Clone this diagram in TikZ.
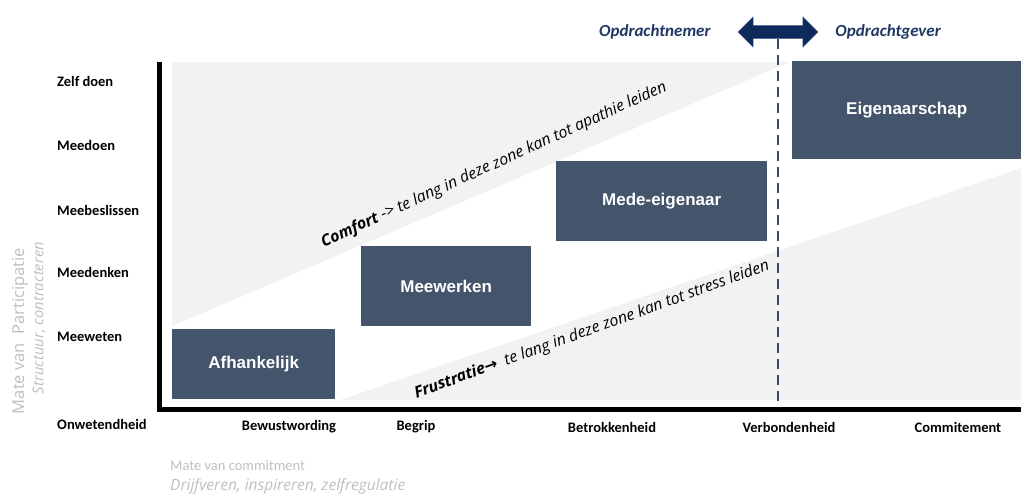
\documentclass[tikz,border=0pt]{standalone}
\usepackage{fontspec}
\setmainfont{Carlito}
\newfontfamily\boxfont{Liberation Sans}
\newfontfamily\zonefont{Open Sans}
\newfontfamily\symfont{DejaVu Sans}
\usetikzlibrary{shapes.arrows,positioning}
\usepackage{xcolor}
\definecolor{slate}{HTML}{44546A}
\definecolor{navy}{HTML}{1F3864}
\definecolor{arrownavy}{HTML}{0E2A5C}
\definecolor{zone}{HTML}{F2F2F2}
\definecolor{faint}{HTML}{BFBFBF}
\definecolor{divider}{HTML}{3B4A63}

\begin{document}
\begin{tikzpicture}[x=1pt,y=-1pt]
      \tikzstyle{stage} = [rectangle, fill=slate, text=white, inner sep=0pt, anchor=north west, font=\boxfont\bfseries\fontsize{17}{20}\selectfont]
      \tikzstyle{level} = [anchor=west, inner sep=0pt, font=\bfseries\fontsize{14.5}{17}\selectfont]
      \tikzstyle{phase} = [inner sep=0pt, font=\bfseries\fontsize{14.5}{17}\selectfont]
      \tikzstyle{side} = [navy, inner sep=0pt, font=\bfseries\itshape\fontsize{17}{20}\selectfont]
      \tikzstyle{zonetext} = [inner sep=0pt, font=\zonefont\itshape\fontsize{15.8}{19}\selectfont]
      \tikzstyle{axistitle} = [faint, inner sep=0pt, font=\fontsize{14.5}{17}\selectfont]

      \useasboundingbox (0,0) rectangle (1021,495);

      % comfort and frustration zones
      \fill[zone] (172,62) -- (790,62) -- (172,326) -- cycle;
      \fill[zone] (340,400) -- (1021,400) -- (1021,168) -- cycle;

      % axes
      \draw[line width=5.5pt] (159.5,62) -- (159.5,409.5) -- (1021,409.5);

      % stages
      \node[stage, minimum width=163pt, minimum height=70pt] (s1) at (172,329) {Afhankelijk};
      \node[stage, minimum width=170pt, minimum height=80pt] (s2) at (361,246) {Meewerken};
      \node[stage, minimum width=211pt, minimum height=80pt] (s3) at (556,161) {Mede-eigenaar};
      \node[stage, minimum width=229pt, minimum height=98pt] (s4) at (792,61) {Eigenaarschap};

      % participation levels
      \node[level] (l0) at (57,424) {Onwetendheid};
      \node[level] (l1) at (57,337) {Meeweten};
      \node[level] (l2) at (57,272) {Meedenken};
      \node[level] (l3) at (57,210) {Meebeslissen};
      \node[level] (l4) at (57,145) {Meedoen};
      \node[level] (l5) at (57,81) {Zelf doen};

      % commitment phases
      \node[phase] (p1) at (289,427) {Bewustwording};
      \node[phase] (p2) at (416,427) {Begrip};
      \node[phase] (p3) at (612,427) {Betrokkenheid};
      \node[phase] (p4) at (789,427) {Verbondenheid};
      \node[phase] (p5) at (958,427) {Commitement};

      % axis titles
      \node[axistitle, rotate=90, font=\zonefont\fontsize{16.5}{20}\selectfont] (ytitle) at (20,331) {Mate van\ \ Participatie};
      \node[axistitle, rotate=90, font=\zonefont\itshape\fontsize{14.8}{17}\selectfont] (ysub) at (39,318) {Structuur, contracteren};
      \node[axistitle, anchor=west] (xtitle) at (170,466) {Mate van commitment};
      \node[axistitle, anchor=west, font=\zonefont\itshape\fontsize{15.5}{18}\selectfont] (xsub) at (170,486) {Drijfveren, inspireren, zelfregulatie};

      % zone remarks
      \node[zonetext, rotate=24.5] (comfort) at (494,165) {\textbf{Comfort} -> te lang in deze zone kan tot apathie leiden};
      \node[zonetext, rotate=20] (stress) at (592,330) {\textbf{Frustratie}{\symfont\bfseries →}\ \ te lang in deze zone kan tot stress leiden};

      % contractor / client switch
      \node[double arrow, fill=arrownavy, draw=arrownavy!70!white, minimum height=80pt, inner xsep=0pt, inner ysep=6.5pt, double arrow head extend=8.5pt, double arrow head indent=0pt] (swap) at (778,32) {};
      \node[side, left=27pt of swap] (nemer) {Opdrachtnemer};
      \node[side, right=17pt of swap] (gever) {Opdrachtgever};
      \coordinate (axisend) at (778,406);
      \draw[divider, line width=2.8pt, dash pattern=on 10pt off 6pt] (swap.south) -- (axisend);
\end{tikzpicture}
\end{document}
